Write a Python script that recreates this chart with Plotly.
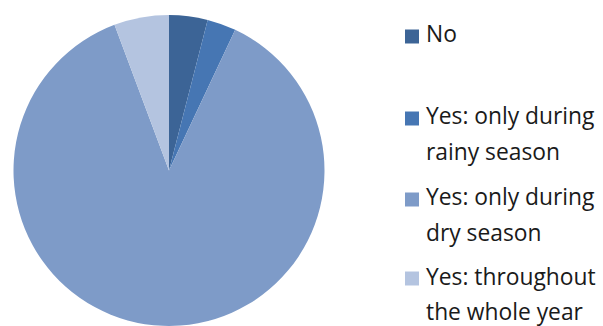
import plotly.graph_objects as go

# Survey answers and share of respondents (%)
legend_lines = [
    ["No"],
    ["Yes: only during", "rainy season"],
    ["Yes: only during", "dry season"],
    ["Yes: throughout", "the whole year"],
]
labels = [" ".join(lines) for lines in legend_lines]
shares = [4.0, 3.0, 87.3, 5.7]
colors = ["#3C6496", "#4676B3", "#7E9BC8", "#B4C4E0"]

W, H = 603, 326

fig = go.Figure(
    go.Pie(
        labels=labels,
        values=shares,
        sort=False,
        direction="clockwise",
        rotation=0,
        marker=dict(colors=colors, line=dict(width=0)),
        textinfo="none",
        hoverinfo="label+percent",
        domain=dict(x=[13 / W, 325 / W], y=[0, 1 - 15 / H]),
        showlegend=False,
    )
)

# Legend drawn on the right: a colour square and one or two text lines per entry
first_line_y = [34, 116, 197, 276]   # pixel y of the first text line (centre)
line_gap = 35
sq_x0, sq_size, text_x = 405, 14, 424

shapes, annotations = [], []
for lines, color, y0 in zip(legend_lines, colors, first_line_y):
    sy = y0 + 2.5
    shapes.append(dict(
        type="rect", xref="paper", yref="paper",
        x0=sq_x0 / W, x1=(sq_x0 + sq_size) / W,
        y0=1 - (sy - sq_size / 2) / H, y1=1 - (sy + sq_size / 2) / H,
        fillcolor=color, line=dict(width=0),
    ))
    for i, txt in enumerate(lines):
        annotations.append(dict(
            text=txt, xref="paper", yref="paper",
            x=text_x / W, y=1 - (y0 + i * line_gap) / H,
            xanchor="left", yanchor="middle", showarrow=False,
            font=dict(family="Open Sans", size=22.8, color="#1A1A1A"),
        ))

fig.update_layout(
    width=W, height=H,
    margin=dict(l=0, r=0, t=0, b=0),
    paper_bgcolor="white", plot_bgcolor="white",
    shapes=shapes, annotations=annotations,
)

fig.write_html("out.html")
